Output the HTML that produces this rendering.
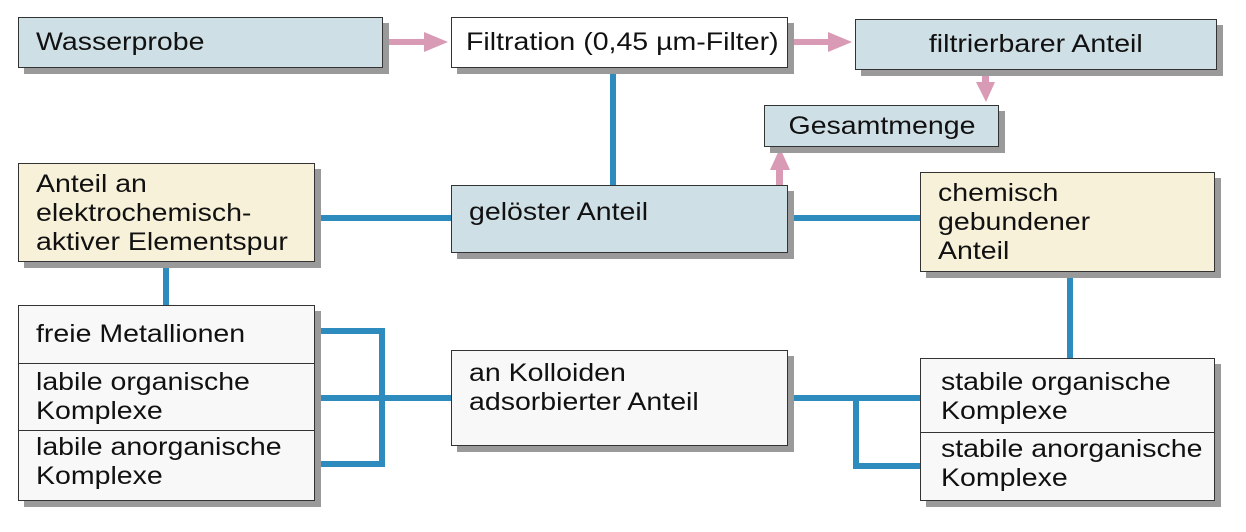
<!DOCTYPE html>
<html><head><meta charset="utf-8"><style>
body{margin:0;width:1246px;height:532px;background:#fff;position:relative;overflow:hidden;font-family:"Liberation Sans",Arial,sans-serif;color:#111}
.b{position:absolute;box-sizing:border-box;border:1.5px solid #333;box-shadow:6px 6px 0 #9a9a9a;font-size:25px;line-height:29px;padding:0 0 0 17px;display:flex;align-items:center}
.blue{background:#cfdfe6}.yel{background:#f7f1d9}.wh{background:#f8f8f8}
.c{justify-content:center;padding:0}
.top{align-items:flex-start;padding-top:10px}
.s{display:inline-block;transform:scaleX(1.14);transform-origin:left center;white-space:nowrap}
.c .s{transform-origin:center}
svg{position:absolute;left:0;top:0}
</style></head><body>
<svg width="1246" height="532">
<g stroke="#2d8cbd" stroke-width="6" fill="none">
<line x1="613" y1="68" x2="613" y2="186"/>
<line x1="315" y1="218" x2="452" y2="218"/>
<line x1="788" y1="218" x2="920" y2="218"/>
<line x1="166" y1="262" x2="166" y2="306"/>
<line x1="1070" y1="272" x2="1070" y2="358"/>
<polyline points="316,331 382,331 382,464 316,464"/>
<line x1="316" y1="398" x2="452" y2="398"/>
<line x1="788" y1="398" x2="920" y2="398"/>
<polyline points="856,398 856,466 920,466"/>
</g>
<g fill="#d99ab5" stroke="none">
<rect x="386" y="39" width="40" height="6"/><polygon points="424,32 448,42 424,52"/>
<rect x="793" y="39" width="36" height="6"/><polygon points="828,32 852,42 828,52"/>
<rect x="982" y="72" width="7" height="12"/><polygon points="976,82 995,82 986,102"/>
<rect x="776" y="168" width="7" height="18"/><polygon points="770,170 790,170 780,148"/>
</g>
</svg>
<div class="b blue" style="left:18px;top:17px;width:365px;height:51px"><span class="s">Wasserprobe</span></div>
<div class="b wh" style="left:451px;top:17px;width:337px;height:51px;background:#fff;padding-left:14px"><span class="s">Filtration (0,45 µm-Filter)</span></div>
<div class="b blue c" style="left:855px;top:19px;width:362px;height:51px"><span class="s">filtrierbarer Anteil</span></div>
<div class="b blue c" style="left:764px;top:105px;width:235px;height:42px"><span class="s">Gesamtmenge</span></div>
<div class="b yel top" style="left:18px;top:163px;width:297px;height:99px;padding-top:6px"><span class="s">Anteil an<br>elektrochemisch-<br>aktiver Elementspur</span></div>
<div class="b blue top" style="left:451px;top:185px;width:337px;height:68px;padding-top:12px"><span class="s">gelöster Anteil</span></div>
<div class="b yel top" style="left:920px;top:172px;width:295px;height:100px;padding-top:6px"><span class="s">chemisch<br>gebundener<br>Anteil</span></div>
<div class="b wh" style="left:18px;top:305px;width:297px;height:196px;padding:0;display:block">
 <div style="height:57px;border-bottom:1.5px solid #333;padding-left:17px;display:flex;align-items:center"><span class="s">freie Metallionen</span></div>
 <div style="height:67px;border-bottom:1.5px solid #333;padding:4px 0 0 17px;box-sizing:border-box"><span class="s">labile organische<br>Komplexe</span></div>
 <div style="padding:2px 0 0 17px"><span class="s">labile anorganische<br>Komplexe</span></div>
</div>
<div class="b wh top" style="left:451px;top:350px;width:337px;height:96px;padding-top:8px"><span class="s">an Kolloiden<br>adsorbierter Anteil</span></div>
<div class="b wh" style="left:920px;top:358px;width:295px;height:143px;padding:0;display:block">
 <div style="height:74px;border-bottom:1.5px solid #333;padding:9px 0 0 20px;box-sizing:border-box"><span class="s">stabile organische<br>Komplexe</span></div>
 <div style="padding:2px 0 0 20px"><span class="s">stabile anorganische<br>Komplexe</span></div>
</div>
</body></html>
